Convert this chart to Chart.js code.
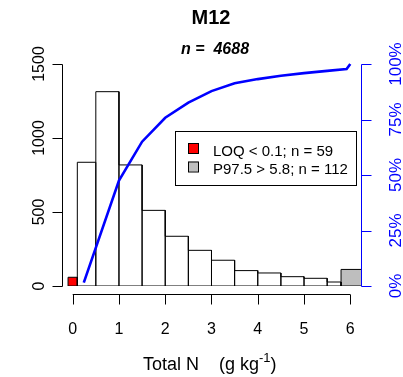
<!DOCTYPE html>
<html>
<head>
<meta charset="utf-8">
<script src="https://cdn.jsdelivr.net/npm/chart.js@4.4.1/dist/chart.umd.min.js"></script>
<style>
  html, body { margin: 0; padding: 0; background: #fff; }
  #wrap { width: 403px; height: 377px; }
</style>
</head>
<body>
<div id="wrap"><canvas id="chart" width="403" height="377"></canvas></div>
<script>
// histogram bins (g/kg) and counts
const binEdges  = [0.1, 0.5, 1.0, 1.5, 2.0, 2.5, 3.0, 3.5, 4.0, 4.5, 5.0, 5.5, 5.8];
const binCounts = [836, 1313, 818, 511, 336, 241, 174, 104, 88, 63, 52, 27];
// below LOQ and above P97.5
const loqEdges = [-0.1, 0.1];
const loqCount = 59;
const p97Edges = [5.8, 6.25];
const p97Count = 112;
// cumulative share (%)
const cumX   = [0.24, 1.0, 1.5, 2.0, 2.5, 3.0, 3.5, 4.0, 4.5, 5.0, 5.5, 5.92, 6.0];
const cumPct = [1.5, 47.5, 65.0, 75.8, 82.6, 87.8, 91.3, 93.2, 94.7, 95.9, 96.9, 97.7, 100];
// axis ticks
const xTicks     = [0, 1, 2, 3, 4, 5, 6];
const countTicks = [0, 500, 1000, 1500];
const pctTicks   = [0, 25, 50, 75, 100];
const legendItems = ['LOQ < 0.1; n = 59', 'P97.5 > 5.8; n = 112'];
const legendColors = ['#FF0000', '#BEBEBE'];

const FONT = "'Liberation Sans', Arial, Helvetica, sans-serif";

// closed outline of a run of adjacent bins
function outline(edges, counts) {
  const pts = [{ x: edges[0], y: 0 }];
  for (let i = 0; i < counts.length; i++) {
    pts.push({ x: edges[i], y: counts[i] });
    pts.push({ x: edges[i + 1], y: counts[i] });
    pts.push({ x: edges[i + 1], y: 0 });
  }
  pts.push({ x: edges[0], y: 0 });
  return pts;
}

// top edge of a single bin, filled down to zero
function topEdge(edges, count) {
  return [{ x: edges[0], y: count }, { x: edges[1], y: count }];
}

function outlineSet(label, pts) {
  return {
    label, data: pts, yAxisID: 'y',
    borderColor: '#000', borderWidth: 1,
    pointRadius: 0, fill: false, order: 1,
  };
}

function fillSet(label, pts, color) {
  return {
    label, data: pts, yAxisID: 'y',
    borderWidth: 0, borderColor: 'rgba(0,0,0,0)',
    backgroundColor: color,
    pointRadius: 0, fill: 'origin', order: 2,
  };
}

// R-style axes, titles and legend drawn on top
const rDecor = {
  id: 'rDecor',
  afterDraw(chart) {
    const ctx = chart.ctx;
    const { x, y, y1 } = chart.scales;
    const area = chart.chartArea;
    ctx.save();

    // title + subtitle
    ctx.fillStyle = '#000';
    ctx.textAlign = 'center';
    ctx.textBaseline = 'alphabetic';
    ctx.font = 'bold 20px ' + FONT;
    ctx.fillText('M12', 211, 24);
    ctx.font = 'italic bold 16px ' + FONT;
    ctx.fillText('n =  4688', 215, 54);

    // left axis
    const lx = Math.round(area.left) + 0.5;
    ctx.strokeStyle = '#000';
    ctx.lineWidth = 1;
    ctx.beginPath();
    ctx.moveTo(lx, Math.round(y.getPixelForValue(countTicks[0])) + 0.5);
    ctx.lineTo(lx, Math.round(y.getPixelForValue(countTicks[countTicks.length - 1])) + 0.5);
    countTicks.forEach(v => {
      const py = Math.round(y.getPixelForValue(v)) + 0.5;
      ctx.moveTo(lx, py);
      ctx.lineTo(lx - 10, py);
    });
    ctx.stroke();
    ctx.font = '16px ' + FONT;
    ctx.fillStyle = '#000';
    countTicks.forEach(v => {
      const py = y.getPixelForValue(v);
      ctx.save();
      ctx.translate(43.5, py);
      ctx.rotate(-Math.PI / 2);
      ctx.textAlign = 'center';
      ctx.fillText(String(v), 0, 0);
      ctx.restore();
    });

    // bottom axis
    const by = 294.5;
    ctx.beginPath();
    ctx.moveTo(x.getPixelForValue(xTicks[0]), by);
    ctx.lineTo(x.getPixelForValue(xTicks[xTicks.length - 1]), by);
    xTicks.forEach(v => {
      const px = Math.round(x.getPixelForValue(v)) + 0.5;
      ctx.moveTo(px, by);
      ctx.lineTo(px, by + 10);
    });
    ctx.stroke();
    ctx.textAlign = 'center';
    xTicks.forEach(v => {
      ctx.fillText(String(v), x.getPixelForValue(v), 334);
    });

    // x axis title with superscript
    const t1 = 'Total N    (g kg';
    const sup = '-1';
    const t2 = ')';
    ctx.font = '18px ' + FONT;
    const w1 = ctx.measureText(t1).width;
    const w2 = ctx.measureText(t2).width;
    ctx.font = '13px ' + FONT;
    const ws = ctx.measureText(sup).width;
    const sx = 143;
    ctx.textAlign = 'left';
    ctx.font = '18px ' + FONT;
    ctx.fillText(t1, sx, 370);
    ctx.font = '13px ' + FONT;
    ctx.fillText(sup, sx + w1, 362);
    ctx.font = '18px ' + FONT;
    ctx.fillText(t2, sx + w1 + ws, 370);

    // right axis (blue)
    const rx = Math.round(area.right) - 0.5;
    ctx.strokeStyle = '#0000FF';
    ctx.beginPath();
    ctx.moveTo(rx, Math.round(y1.getPixelForValue(0)) + 0.5);
    ctx.lineTo(rx, Math.round(y1.getPixelForValue(100)) + 0.5);
    pctTicks.forEach(v => {
      const py = Math.round(y1.getPixelForValue(v)) + 0.5;
      ctx.moveTo(rx, py);
      ctx.lineTo(rx + 10, py);
    });
    ctx.stroke();
    ctx.fillStyle = '#0000FF';
    ctx.font = '17px ' + FONT;
    pctTicks.forEach(v => {
      const py = y1.getPixelForValue(v);
      ctx.save();
      ctx.translate(401, py);
      ctx.rotate(-Math.PI / 2);
      ctx.textAlign = 'center';
      ctx.fillText(v + '%', 0, 0);
      ctx.restore();
    });

    // legend box
    ctx.fillStyle = '#fff';
    ctx.fillRect(175, 131, 182, 54);
    ctx.strokeStyle = '#000';
    ctx.strokeRect(175.5, 131.5, 181, 54);
    ctx.font = '15px ' + FONT;
    ctx.textAlign = 'left';
    legendItems.forEach((label, i) => {
      const top = 143 + i * 18.5;
      ctx.fillStyle = legendColors[i];
      ctx.fillRect(188, top, 10, 10);
      ctx.strokeRect(188.5, top + 0.5, 10, 10);
      ctx.fillStyle = '#000';
      ctx.fillText(label, 213, top + 12.5);
    });

    ctx.restore();
  }
};

new Chart(document.getElementById('chart').getContext('2d'), {
  type: 'line',
  data: {
    datasets: [
      {
        label: 'cumulative',
        data: cumX.map((v, i) => ({ x: v, y: cumPct[i] })),
        yAxisID: 'y1',
        borderColor: '#0000FF',
        borderWidth: 2.6,
        pointRadius: 0,
        tension: 0,
        fill: false,
        clip: false,
        order: 0,
      },
      outlineSet('histogram', outline(binEdges, binCounts)),
      outlineSet('LOQ outline', outline(loqEdges, [loqCount])),
      outlineSet('P97.5 outline', outline(p97Edges, [p97Count])),
      fillSet('LOQ fill', topEdge(loqEdges, loqCount), '#FF0000'),
      fillSet('P97.5 fill', topEdge(p97Edges, p97Count), '#BEBEBE'),
    ]
  },
  options: {
    responsive: false,
    animation: false,
    layout: { padding: { left: 62, right: 41, top: 64, bottom: 91 } },
    plugins: { legend: { display: false }, tooltip: { enabled: false }, title: { display: false } },
    scales: {
      x:  { type: 'linear', display: false, min: -0.231, max: 6.253 },
      y:  { type: 'linear', display: false, min: 0, max: 1500 },
      y1: { type: 'linear', display: false, min: 0, max: 100, position: 'right' }
    }
  },
  plugins: [rDecor]
});
</script>
</body>
</html>
